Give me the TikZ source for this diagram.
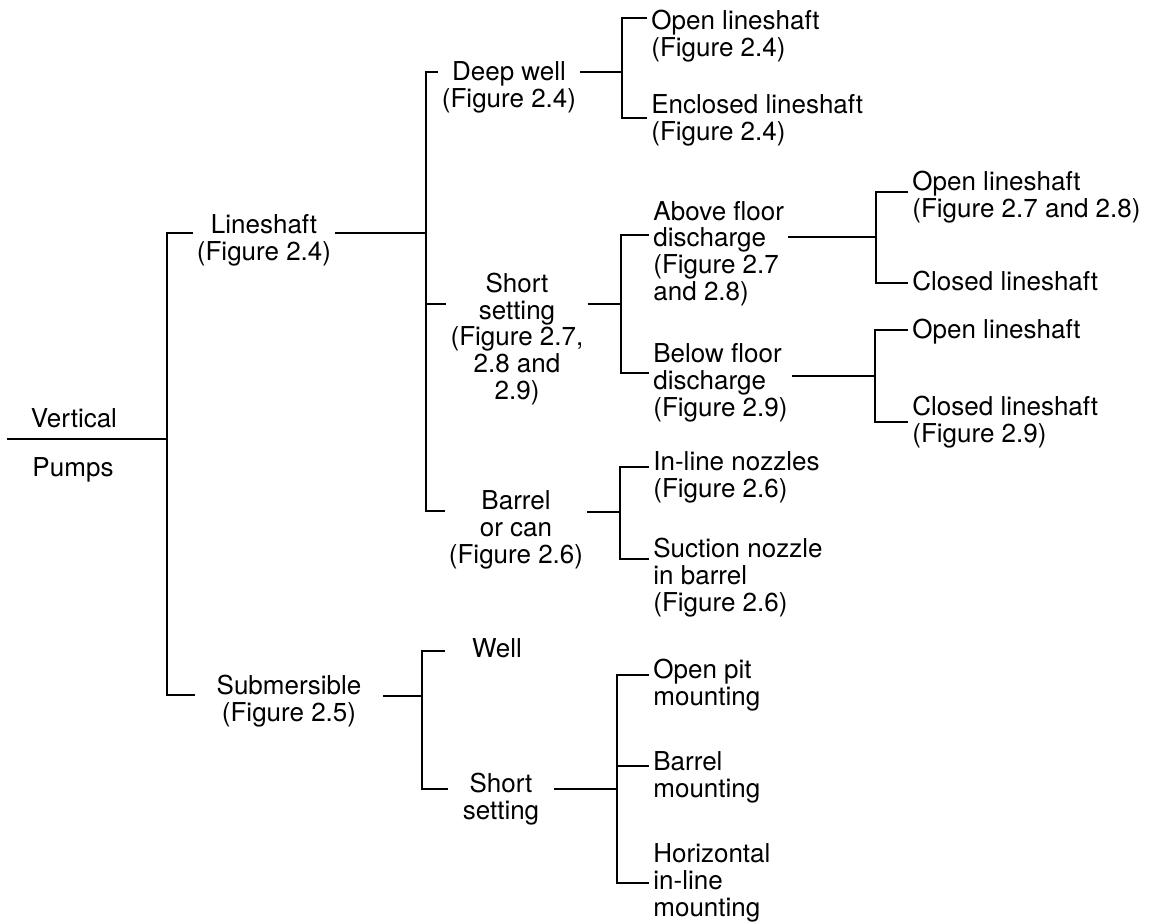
\documentclass[tikz,border=0pt]{standalone}
\usepackage{fontspec}
\setmainfont{TeX Gyre Heros}
\newcommand\pumpfont{\fontsize{14.8}{15.1}\selectfont}
\tikzset{
  inner label/.style={
    font=\pumpfont, align=center, anchor=base, inner xsep=2.3pt, inner ysep=0pt
  },
  leaf label/.style={
    font=\pumpfont, align=left, anchor=base west, inner xsep=2.3pt, inner ysep=0pt
  },
  bracket/.style={
    draw=black, line width=0.8pt
  }
}

\begin{document}
\begin{tikzpicture}[x=0.02cm, y=-0.02cm]
\useasboundingbox (0,0) rectangle (1149,923);

% root
\node[inner label] (vert)  at (74,427) {Vertical};
\node[inner label] (pumps) at (73,476) {Pumps};
\coordinate (r0) at (7,439);
\coordinate (b1j) at (167,439);
\draw[bracket] (r0) -- (b1j);

% level 1: lineshaft / submersible
\node[inner label] (lsh) at (264,260) {Lineshaft\\(Figure 2.4)};
\node[inner label, minimum width=3.76cm] (sub) at (289,721) {Submersible\\(Figure 2.5)};
\coordinate (b1top) at (167,233);
\coordinate (b1bot) at (167,695);
\draw[bracket] (b1top -| lsh.west) -- (b1top) -- (b1bot) -- (b1bot -| sub.west);

% level 2 under lineshaft
\node[inner label] (deep)   at (509,107) {Deep well\\(Figure 2.4)};
\node[inner label] (short)  at (517,399) {Short\\setting\\(Figure 2.7,\\2.8 and\\2.9)};
\node[inner label] (barrel) at (516,563) {Barrel\\or can\\(Figure 2.6)};
\coordinate (b2top) at (426,72);
\coordinate (b2j)   at (426,233);
\coordinate (b2mid) at (426,304);
\coordinate (b2bot) at (426,511);
\draw[bracket] (lsh.east |- b2j) -- (b2j);
\draw[bracket] (b2top -| deep.west) -- (b2top) -- (b2bot) -- (b2bot -| barrel.west);
\draw[bracket] (b2mid) -- (b2mid -| short.west);

% level 3 under deep well
\node[leaf label] (ol1) at (647,56)  {Open lineshaft\\(Figure 2.4)};
\node[leaf label] (el1) at (647,140) {Enclosed lineshaft\\(Figure 2.4)};
\coordinate (b3top) at (622,18);
\coordinate (b3j)   at (622,72);
\coordinate (b3bot) at (622,118);
\draw[bracket] (deep.east |- b3j) -- (b3j);
\draw[bracket] (b3top -| ol1.west) -- (b3top) -- (b3bot) -- (b3bot -| el1.west);

% level 3 under short setting
\node[leaf label] (above) at (649,300) {Above floor\\discharge\\(Figure 2.7\\and 2.8)};
\node[leaf label] (below) at (649,416) {Below floor\\discharge\\(Figure 2.9)};
\coordinate (b4top) at (621,235);
\coordinate (b4j)   at (621,304);
\coordinate (b4bot) at (621,373);
\draw[bracket] (short.east |- b4j) -- (b4j);
\draw[bracket] (b4top -| above.west) -- (b4top) -- (b4bot) -- (b4bot -| below.west);

% level 3 under barrel
\node[leaf label] (inl) at (649,497) {In-line nozzles\\(Figure 2.6)};
\node[leaf label] (suc) at (649,611) {Suction nozzle\\in barrel\\(Figure 2.6)};
\coordinate (b5top) at (620,467);
\coordinate (b5j)   at (620,512);
\coordinate (b5bot) at (620,559);
\draw[bracket] (barrel.east |- b5j) -- (b5j);
\draw[bracket] (b5top -| inl.west) -- (b5top) -- (b5bot) -- (b5bot -| suc.west);

% level 4 under above floor
\node[leaf label] (ol2) at (908,217) {Open lineshaft\\(Figure 2.7 and 2.8)};
\node[leaf label] (cl1) at (908,290) {Closed lineshaft};
\coordinate (b6top) at (876,192);
\coordinate (b6j)   at (876,237);
\coordinate (b6bot) at (876,283);
\draw[bracket] (above.east |- b6j) -- (b6j);
\draw[bracket] (b6top -| ol2.west) -- (b6top) -- (b6bot) -- (b6bot -| cl1.west);

% level 4 under below floor
\node[leaf label] (ol3) at (908,338) {Open lineshaft};
\node[leaf label] (cl2) at (908,442) {Closed lineshaft\\(Figure 2.9)};
\coordinate (b7top) at (875,330);
\coordinate (b7j)   at (875,376);
\coordinate (b7bot) at (875,422);
\draw[bracket] (below.east |- b7j) -- (b7j);
\draw[bracket] (b7top -| ol3.west) -- (b7top) -- (b7bot) -- (b7bot -| cl2.west);

% level 2 under submersible
\node[inner label, minimum width=2.08cm] (well) at (497,657) {Well};
\node[inner label, minimum width=2.1cm]  (ss2)  at (501,819) {Short\\setting};
\coordinate (b8top) at (422,651);
\coordinate (b8j)   at (422,696);
\coordinate (b8bot) at (422,789);
\draw[bracket] (sub.east |- b8j) -- (b8j);
\draw[bracket] (b8top -| well.west) -- (b8top) -- (b8bot) -- (b8bot -| ss2.west);

% level 3 under short setting (submersible)
\node[leaf label] (pit) at (649,705) {Open pit\\mounting};
\node[leaf label] (bm)  at (649,797) {Barrel\\mounting};
\node[leaf label] (hz)  at (649,916) {Horizontal\\in-line\\mounting};
\coordinate (b9top) at (617,675);
\coordinate (b9mid) at (617,766);
\coordinate (b9j)   at (617,789);
\coordinate (b9bot) at (617,883);
\draw[bracket] (ss2.east |- b9j) -- (b9j);
\draw[bracket] (b9top -| pit.west) -- (b9top) -- (b9bot) -- (b9bot -| hz.west);
\draw[bracket] (b9mid) -- (b9mid -| bm.west);

\end{tikzpicture}
\end{document}
